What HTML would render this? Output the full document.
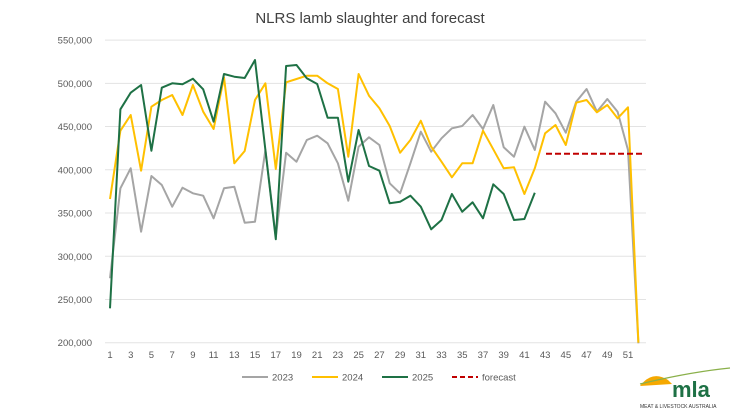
<!DOCTYPE html>
<html><head><meta charset="utf-8"><style>
body{margin:0;background:#fff;}
svg{display:block;font-family:"Liberation Sans",sans-serif;}
</style></head><body>
<svg id="c" width="740" height="415" viewBox="0 0 740 415" xmlns="http://www.w3.org/2000/svg">
<text x="370" y="23" text-anchor="middle" font-size="15" fill="#404040">NLRS lamb slaughter and forecast</text>
<g id="grid" stroke="#e3e3e3" stroke-width="1"></g>
<g id="yl" font-size="9.5" fill="#595959" text-anchor="end"></g>
<g id="xl" font-size="9.5" fill="#595959" text-anchor="middle"></g>
<g id="lines" fill="none" stroke-width="2" stroke-linejoin="round"></g>
<line x1="546" y1="153.7" x2="643" y2="153.7" stroke="#c00000" stroke-width="2" stroke-dasharray="6,3"/>
<g font-size="9.5" fill="#595959">
<line x1="242" y1="377" x2="268" y2="377" stroke="#a5a5a5" stroke-width="2"/><text x="272" y="380.5">2023</text>
<line x1="312" y1="377" x2="338" y2="377" stroke="#ffc000" stroke-width="2"/><text x="342" y="380.5">2024</text>
<line x1="382" y1="377" x2="408" y2="377" stroke="#1e7145" stroke-width="2"/><text x="412" y="380.5">2025</text>
<line x1="452" y1="377" x2="478" y2="377" stroke="#c00000" stroke-width="2" stroke-dasharray="5,3"/><text x="482" y="380.5">forecast</text>
</g>
<path d="M640 386 Q652 370 668 380 L672 384 Z" fill="#f5a800"/>
<path d="M640 384 Q690 372 730 368" stroke="#8ab04a" stroke-width="1.2" fill="none"/>
<text x="672" y="397" font-size="22" font-weight="bold" fill="#1e7145">mla</text>
<text x="640" y="408" font-size="5" fill="#333">MEAT &amp; LIVESTOCK AUSTRALIA</text>
</svg>
<script>
var ns="http://www.w3.org/2000/svg";
function el(p,t,a,txt){var e=document.createElementNS(ns,t);for(var k in a)e.setAttribute(k,a[k]);if(txt)e.textContent=txt;document.getElementById(p).appendChild(e);}
for(var i=0;i<8;i++){var y=40.1+i*43.23;el("grid","line",{x1:105,x2:646,y1:y,y2:y});
el("yl","text",{x:92,y:y+3.5},(550-i*50)+",000");}
for(var n=1;n<=51;n+=2)el("xl","text",{x:110+(n-1)*10.36,y:358},n);
function X(n){return 110+(n-1)*10.36}
function Y(z){return 50+z/3}
var g=[685,415,355,545,378,405,470,413,430,437,505,415,410,518,515,300,560,308,335,270,257,280,340,452,290,262,285,400,430,340,245,305,265,235,228,195,237,165,292,320,230,300,155,190,248,155,117,185,147,185,300,880];
var yv=[447,242,195,362,170,150,135,195,105,185,237,82,340,303,150,100,357,97,87,77,77,100,117,320,72,137,175,228,308,270,212,290,335,382,340,340,242,298,355,352,432,355,250,225,285,158,150,187,165,205,172,878];
var gr=[775,178,128,105,302,113,100,103,86,118,215,72,80,84,30,300,568,48,45,85,102,203,203,395,240,348,362,460,455,437,470,538,510,432,485,457,505,403,432,510,507,428];
function pl(a,c){var p=a.map(function(z,i){return X(i+1).toFixed(1)+","+Y(z).toFixed(1)}).join(" ");el("lines","polyline",{points:p,stroke:c});}
pl(g,"#a5a5a5");pl(yv,"#ffc000");pl(gr,"#1e7145");
</script>
</body></html>
